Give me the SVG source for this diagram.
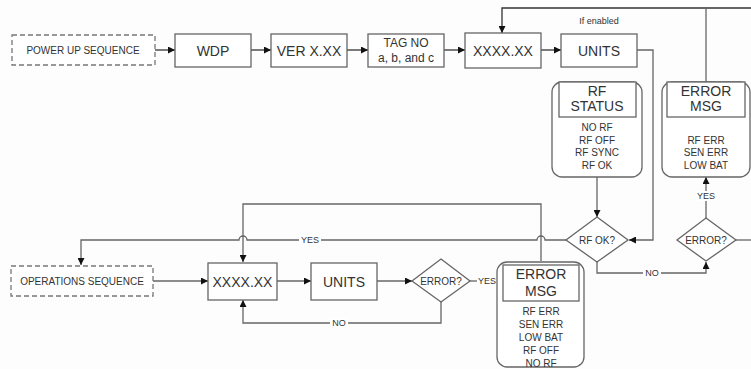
<svg xmlns="http://www.w3.org/2000/svg" width="751" height="369" viewBox="0 0 751 369">
<style>
text{font-family:"Liberation Sans",Arial,sans-serif;fill:#333;text-anchor:middle;dominant-baseline:central}
.box{fill:#fff;stroke:#666;stroke-width:1.3}
.dash{fill:#fff;stroke:#777;stroke-width:1.3;stroke-dasharray:5,3}
.round{fill:#fff;stroke:#666;stroke-width:1.3}
.ln{fill:none;stroke:#666;stroke-width:1.3}
.lnd{fill:none;stroke:#333;stroke-width:1.3}
.big{font-size:14px}
.med{font-size:12px}
.sm{font-size:10px}
.lbl{font-size:9px}
.lblbg{fill:#fff}
</style>
<defs>
<marker id="ah" viewBox="0 0 10 10" refX="10" refY="5" markerWidth="7" markerHeight="7" orient="auto" markerUnits="userSpaceOnUse">
<path d="M0,0 L10,5 L0,10 z" fill="#111"/>
</marker>
</defs>
<rect width="751" height="369" fill="#fdfdfd"/>

<g id="connectors">
<path class="lnd" d="M155,50 H175" marker-end="url(#ah)"/>
<path class="lnd" d="M251,50 H271" marker-end="url(#ah)"/>
<path class="lnd" d="M347,50 H368" marker-end="url(#ah)"/>
<path class="lnd" d="M444,50 H465" marker-end="url(#ah)"/>
<path class="lnd" d="M541,50 H561" marker-end="url(#ah)"/>
<path class="lnd" d="M751,8 H502 V33" marker-end="url(#ah)"/>
<path class="ln" d="M706,8 V82"/>
<path class="ln" d="M637,50 H653 V240 H629" marker-end="url(#ah)"/>
<path class="ln" d="M597,177 V217" marker-end="url(#ah)"/>
<path class="ln" d="M566,240 H545 a4,4 0 0 0 -8,0 H247 a4,4 0 0 0 -8,0 H81 V265" marker-end="url(#ah)"/>
<path class="ln" d="M541,261 V204 H243 V262" marker-end="url(#ah)"/>
<path class="ln" d="M597,262 V273 H706 V262" marker-end="url(#ah)"/>
<path class="ln" d="M706,218 V177" marker-end="url(#ah)"/>
<path class="ln" d="M736,240 H751"/>
<path class="ln" d="M153,281 H208" marker-end="url(#ah)"/>
<path class="ln" d="M277,281 H311" marker-end="url(#ah)"/>
<path class="ln" d="M377,281 H412" marker-end="url(#ah)"/>
<path class="ln" d="M470,281 H499" marker-end="url(#ah)"/>
<path class="ln" d="M441,302 V323 H243 V300" marker-end="url(#ah)"/>
<rect class="lblbg" x="299" y="235" width="22" height="10"/>
<text class="lbl" x="310" y="240">YES</text>
<rect class="lblbg" x="330" y="318" width="18" height="10"/>
<text class="lbl" x="339" y="323">NO</text>
<rect class="lblbg" x="477" y="276" width="20" height="10"/>
<text class="lbl" x="487" y="281">YES</text>
<rect class="lblbg" x="643" y="268" width="18" height="10"/>
<text class="lbl" x="652" y="273">NO</text>
<rect class="lblbg" x="696" y="191" width="21" height="10"/>
<text class="lbl" x="706" y="196">YES</text>
<text class="lbl" x="599" y="21">If enabled</text>
</g>

<g id="power-up">
<rect class="dash" x="12" y="35" width="143" height="30"/>
<text class="sm" x="83" y="50">POWER UP SEQUENCE</text>
</g>
<g id="wdp">
<rect class="box" x="175" y="34" width="76" height="33"/>
<text class="big" x="213" y="50.5">WDP</text>
</g>
<g id="ver">
<rect class="box" x="271" y="34" width="76" height="33"/>
<text class="big" x="309" y="50.5">VER X.XX</text>
</g>
<g id="tag">
<rect class="box" x="368" y="34" width="76" height="33"/>
<text class="med" x="406" y="43">TAG NO</text>
<text class="med" x="406" y="58">a, b, and c</text>
</g>
<g id="xxxx-top">
<rect class="box" x="465" y="33" width="76" height="35"/>
<text class="big" x="503" y="50.5">XXXX.XX</text>
</g>
<g id="units-top">
<rect class="box" x="561" y="34" width="76" height="33"/>
<text class="big" x="599" y="50.5">UNITS</text>
</g>
<g id="rf-status">
<rect class="round" x="552" y="82" width="90" height="95" rx="10"/>
<rect class="box" x="559" y="82" width="77" height="35"/>
<text class="big" x="597" y="91">RF</text>
<text class="big" x="597" y="106">STATUS</text>
<text class="sm" x="597" y="127">NO RF</text>
<text class="sm" x="597" y="140">RF OFF</text>
<text class="sm" x="597" y="152">RF SYNC</text>
<text class="sm" x="597" y="165">RF OK</text>
</g>
<g id="error-msg-top">
<rect class="round" x="662" y="82" width="88" height="95" rx="10"/>
<rect class="box" x="667" y="82" width="78" height="35"/>
<text class="big" x="706" y="91">ERROR</text>
<text class="big" x="706" y="106">MSG</text>
<text class="sm" x="706" y="140">RF ERR</text>
<text class="sm" x="706" y="152">SEN ERR</text>
<text class="sm" x="706" y="165">LOW BAT</text>
</g>
<g id="rf-ok">
<polygon class="box" points="597,217 628,240 597,262 566,240"/>
<text class="sm" x="597" y="240">RF OK?</text>
</g>
<g id="error-right">
<polygon class="box" points="706,218 736,240 706,261 677,240"/>
<text class="sm" x="706" y="240">ERROR?</text>
</g>
<g id="ops">
<rect class="dash" x="11" y="266" width="142" height="30"/>
<text class="sm" x="82" y="281">OPERATIONS SEQUENCE</text>
</g>
<g id="xxxx-bottom">
<rect class="box" x="208" y="263" width="69" height="37"/>
<text class="big" x="242.5" y="281.5">XXXX.XX</text>
</g>
<g id="units-bottom">
<rect class="box" x="311" y="263" width="66" height="37"/>
<text class="big" x="344" y="281.5">UNITS</text>
</g>
<g id="error-bottom">
<polygon class="box" points="441,259 470,281 441,302 412,281"/>
<text class="sm" x="441" y="281">ERROR?</text>
</g>
<g id="error-msg-bottom">
<rect class="round" x="497" y="262" width="87" height="105" rx="10"/>
<rect class="box" x="503" y="265" width="76" height="36"/>
<text class="big" x="541" y="274">ERROR</text>
<text class="big" x="541" y="291">MSG</text>
<text class="sm" x="541" y="311">RF ERR</text>
<text class="sm" x="541" y="324">SEN ERR</text>
<text class="sm" x="541" y="337">LOW BAT</text>
<text class="sm" x="541" y="350">RF OFF</text>
<text class="sm" x="541" y="363">NO RF</text>
</g>
</svg>
